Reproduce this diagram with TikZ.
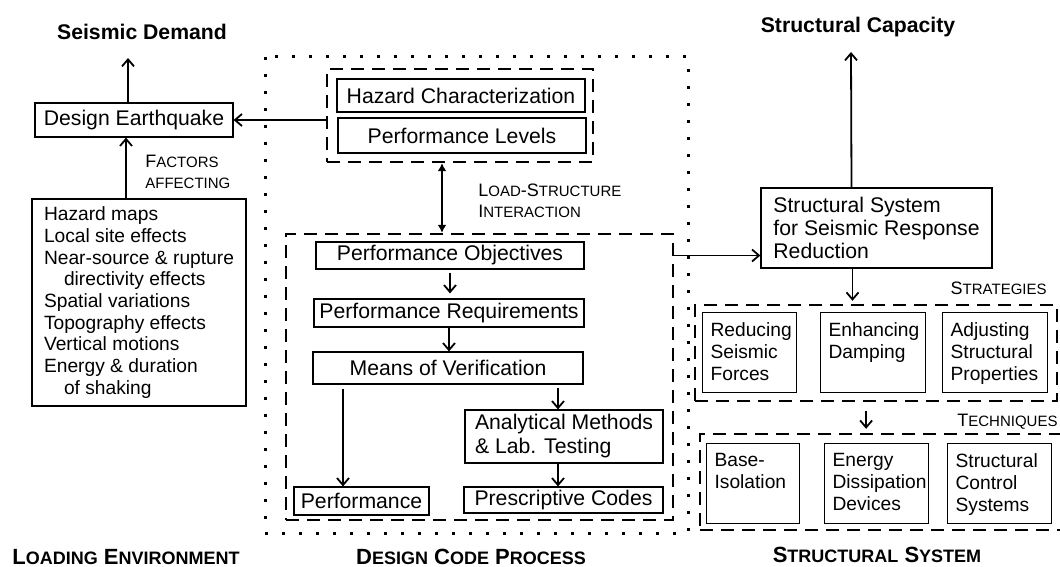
\documentclass[tikz,border=0pt]{standalone}
\usepackage{fontspec}
\setmainfont{Liberation Sans}
\usetikzlibrary{arrows.meta, fit}

\newcommand{\boxf}{\fontsize{10.6pt}{11.5pt}\selectfont}
\newcommand{\anaf}{\fontsize{10.6pt}{12pt}\selectfont}
\newcommand{\listf}{\fontsize{9.6pt}{10.85pt}\selectfont}
\newcommand{\techf}{\fontsize{9.6pt}{11pt}\selectfont}
\newcommand{\lblf}{\fontsize{9pt}{10.5pt}\selectfont}
\newcommand{\sectf}{\fontsize{11pt}{13pt}\selectfont\bfseries}
\newcommand{\smcap}[3][7.5pt]{#2{\fontsize{#1}{#1}\selectfont #3}}
\newcommand{\topstack}[2]{\parbox[c][30pt][t]{#1}{\raggedright #2}}

\begin{document}
\begin{tikzpicture}[
				x=0.5pt, y=-0.5pt,
				box/.style={draw, line width=0.6pt, inner sep=0pt, font=\boxf},
				sbox/.style={draw, line width=0.6pt, inner xsep=4pt, inner ysep=5pt, font=\techf, anchor=north west},
				grp/.style={draw, line width=1.2pt, dash pattern=on 6.5pt off 4pt, inner sep=0pt},
				dotbox/.style={line width=1.5pt, dash pattern=on 1.5pt off 7pt},
				arr/.style={-{Straight Barb[length=3.5pt,width=6pt]}, line width=0.9pt},
				dbl/.style={{Latex[length=4pt,width=4.5pt]}-{Latex[length=4pt,width=4.5pt]}, line width=0.9pt},
				lbl/.style={font=\lblf, align=left, inner sep=0pt},
				toplbl/.style={font=\boxf\bfseries, inner sep=0pt, anchor=base},
				sectlbl/.style={font=\sectf, inner sep=0pt}
				]
				\useasboundingbox (0,0) rectangle (1060,567);
				% loading environment
				\node[toplbl] (demand) at (142,40) {Seismic Demand};
				\coordinate (demtip) at (128,58);
				\node[box, minimum width=99pt, minimum height=17pt] (quake) at (134,120) {Design Earthquake};
				\node[box, font=\listf, align=left, minimum width=107pt, minimum height=103.5pt] (fac) at (139,302.5)
				{Hazard maps\\ Local site effects\\ Near-source \& rupture\\ \hspace*{10pt}directivity effects\\
					Spatial variations\\ Topography effects\\ Vertical motions\\ Energy \& duration\\ \hspace*{10pt}of shaking};
				\node[lbl, anchor=west] (factors) at (145,172) {\smcap{F}{ACTORS}\\ \smcap{}{AFFECTING}};
				
				% design code process
				\draw[dotbox] (265,57) rectangle (688,533);
				\node[box, minimum width=124pt, minimum height=16.5pt] (haz) at (461,95.5) {Hazard Characterization};
				\node[box, minimum width=124pt, minimum height=17.5pt] (lev) at (462,135.5) {Performance Levels};
				\node[grp, fit={(327,69)(593,162)}] (hazgrp) {};
				\node[lbl, anchor=west] (lsi) at (478,201) {\smcap{L}{OAD}-\smcap{S}{TRUCTURE}\\ \smcap{I}{NTERACTION}};
				\node[box, minimum width=134pt, minimum height=13.5pt] (obj) at (450,255.5) {Performance Objectives};
				\node[box, minimum width=135pt, minimum height=14pt] (req) at (449,313) {Performance Requirements};
				\node[box, minimum width=135pt, minimum height=16pt] (verif) at (448,368) {Means of Verification};
				\node[box, minimum width=67.5pt, minimum height=14pt] (perf) at (361.5,501) {Performance};
				\node[box, align=left, font=\anaf, minimum width=99pt, minimum height=26.5pt] (ana) at (564,436.5)
				{Analytical Methods\\ \& Lab. Testing};
				\node[box, minimum width=99.5pt, minimum height=13pt] (code) at (563.5,500) {Prescriptive Codes};
				\node[grp, fit={(286,234)(673,520)}] (objgrp) {};
				
				% structural system
				\node[toplbl] (capacity) at (858,33) {Structural Capacity};
				\coordinate (captip) at (851,52);
				\node[box, align=left, minimum width=115.5pt, minimum height=40pt] (sys) at (876.5,228)
				{Structural System\\ for Seismic Response\\ Reduction};
				\node[lbl, anchor=east] (strat) at (1047,288) {\smcap{S}{TRATEGIES}};
				\node[sbox] (reduce) at (702,312) {\topstack{39pt}{Reducing\\ Seismic\\ Forces}};
				\node[sbox] (enhance) at (820,312) {\topstack{44.5pt}{Enhancing\\ Damping}};
				\node[sbox] (adjust) at (942,312) {\topstack{44.5pt}{Adjusting\\ Structural\\ Properties}};
				\node[grp, fit={(695,305)(1057,401)}] (strgrp) {};
				\node[lbl, anchor=west] (tech) at (957,422) {\smcap{T}{ECHNIQUES}};
				\node[sbox] (base) at (706,443) {\topstack{38.5pt}{Base-\\ Isolation}};
				\node[sbox] (energy) at (824,443) {\topstack{44pt}{Energy\\ Dissipation\\ Devices}};
				\node[sbox] (control) at (947,443) {\topstack{44pt}{Structural\\ Control\\ Systems}};
				\node[grp, fit={(700,434)(1064,530)}] (techgrp) {};
				
				% section names
				\node[sectlbl, anchor=west] (loadenv) at (12,557) {\smcap[9pt]{L}{OADING} \smcap[9pt]{E}{NVIRONMENT}};
				\node[sectlbl] (dcp) at (471,557) {\smcap[9pt]{D}{ESIGN} \smcap[9pt]{C}{ODE} \smcap[9pt]{P}{ROCESS}};
				\node[sectlbl] (sysname) at (877,555) {\smcap[9pt]{S}{TRUCTURAL} \smcap[9pt]{S}{YSTEM}};
				
				% connectors
				\draw[arr] ([xshift=-3pt]quake.north) -- (demtip);
				\draw[arr] (hazgrp.west |- quake) -- (quake.east);
				\draw[arr] ([xshift=-6.5pt]fac.north) -- ([xshift=-6.5pt]fac.north |- quake.south);
				\draw[dbl] ([xshift=-9pt]hazgrp.south) -- ([xshift=-9pt]hazgrp.south |- objgrp.north);
				\draw[arr, shorten <=1.5pt, shorten >=2.5pt] (obj.south) -- (obj.south |- req.north);
				\draw[arr] (req.south) -- (req.south |- verif.north);
				\draw[arr, shorten <=2pt] ([xshift=-9.25pt]perf.north |- verif.south) -- ([xshift=-9.25pt]perf.north);
				\draw[arr, shorten <=1.5pt] ([xshift=-3pt]ana.north |- verif.south) -- ([xshift=-3pt]ana.north);
				\draw[arr] ([xshift=-3pt]ana.south) -- ([xshift=-3pt]ana.south |- code.north);
				\draw[arr] (obj -| objgrp.east) -- (obj -| sys.west);
				\draw[arr] ([xshift=-12.5pt]sys.north) -- (captip);
				\draw[arr, shorten >=1.5pt] ([xshift=-12pt]sys.south) -- ([xshift=-12pt]sys.south |- strgrp.north);
				\draw[arr, shorten <=4.5pt, shorten >=2pt] ([xshift=-3.5pt]enhance.south |- strgrp.south) -- ([xshift=-3.5pt]enhance.south |- techgrp.north);
			\end{tikzpicture}
\end{document}
